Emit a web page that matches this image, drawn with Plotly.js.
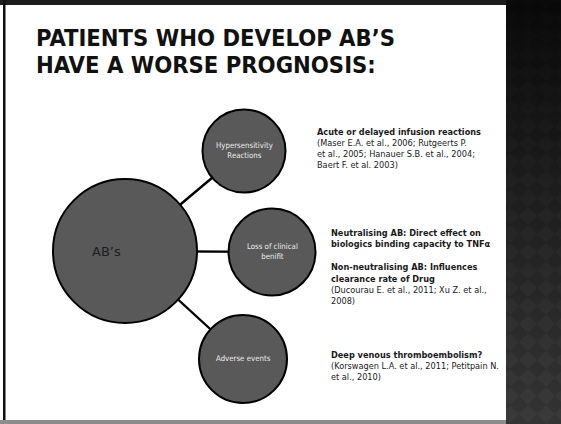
<!DOCTYPE html>
<html><head><meta charset="utf-8">
<script src="https://cdn.plot.ly/plotly-3.0.1.min.js"></script>
<style>html,body{margin:0;padding:0;background:#fff;overflow:hidden}</style></head>
<body><div id="chart" style="width:561px;height:424px"></div>
<script>
// ---- content ----
const titleLines = ["PATIENTS WHO DEVELOP AB’S", "HAVE A WORSE PROGNOSIS:"];

const nodeLabels = ["AB’s", "Hypersensitivity<br>Reactions", "Loss of clinical<br>benifit", "Adverse events"];
const nodeX = [125, 244, 272, 243];
const nodeY = [251, 151, 252, 359];
const nodeR = [72, 41.5, 43.5, 44];
const linkFrom = [0, 0, 0];
const linkTo = [1, 2, 3];

const note1Lines = ["Acute or delayed infusion reactions", "(Maser E.A. et al., 2006; Rutgeerts P.", "et al., 2005; Hanauer S.B. et al., 2004;", "Baert F. et al. 2003)"];
const note1Bold = [true, false, false, false];
const note2Lines = ["Neutralising AB: Direct effect on", "biologics binding capacity to TNFα", "", "Non-neutralising AB: Influences", "clearance rate of Drug", "(Ducourau E. et al., 2011; Xu Z. et al.,", "2008)"];
const note2Bold = [true, true, false, true, true, false, false];
const note3Lines = ["Deep venous thromboembolism?", "(Korswagen L.A. et al., 2011; Petitpain N.", "et al., 2010)"];
const note3Bold = [true, false, false];

// ---- build ----
const W = 561, H = 424;
const lx = [], ly = [];
for (let i = 0; i < linkFrom.length; i++) {
  lx.push(nodeX[linkFrom[i]], nodeX[linkTo[i]], null);
  ly.push(nodeY[linkFrom[i]], nodeY[linkTo[i]], null);
}
const traces = [{
  type: 'scatter', mode: 'lines', x: lx, y: ly,
  line: {color: '#000', width: 2.3}, hoverinfo: 'skip', showlegend: false
}];

const shapes = [];
// slide frame
shapes.push({type:'rect', xref:'x', yref:'y', x0:0, x1:W, y0:0, y1:5, fillcolor:'#1c1c1c', line:{width:0}, layer:'below'});
shapes.push({type:'rect', xref:'x', yref:'y', x0:3, x1:5.5, y0:0, y1:H, fillcolor:'#111', line:{width:0}, layer:'below'});
shapes.push({type:'rect', xref:'x', yref:'y', x0:0, x1:W, y0:420, y1:H, fillcolor:'#8c8c8c', line:{width:0}, layer:'below'});
// nodes
for (let i = 0; i < nodeLabels.length; i++) {
  shapes.push({type:'circle', xref:'x', yref:'y',
    x0:nodeX[i]-nodeR[i], x1:nodeX[i]+nodeR[i], y0:nodeY[i]-nodeR[i], y1:nodeY[i]+nodeR[i],
    fillcolor:'#595959', line:{color:'#000', width:2}, layer:'above'});
}

const bodyFont = 'DejaVu Sans, sans-serif';
const condFont = 'DejaVu Sans Condensed, DejaVu Sans, sans-serif';
const annotations = [];
titleLines.forEach((t, i) => annotations.push({
  xref:'x', yref:'y', x:34, y:37.5 + i*27, text:'<b>'+t+'</b>', showarrow:false,
  xanchor:'left', yanchor:'middle',
  font:{family:condFont, size:23.6, color:'#111'}
}));
nodeLabels.forEach((t, i) => {
  const big = i === 0;
  annotations.push({
    xref:'x', yref:'y', x: big ? nodeX[i]-19 : nodeX[i], y: nodeY[i]-(big?0:1), text:t, showarrow:false,
    xanchor:'center', yanchor:'middle', align:'center',
    font: big ? {family:'DejaVu Sans, sans-serif', size:13, color:'#1e1e1e'}
              : {family:condFont, size:7.8, color:'#ececec'}
  });
});
function addBlock(lines, bold, x0, y0, dy) {
  lines.forEach((t, i) => {
    if (!t) return;
    annotations.push({
      xref:'x', yref:'y', x:x0, y:y0 + i*dy, text: bold[i] ? '<b>'+t+'</b>' : t,
      showarrow:false, xanchor:'left', yanchor:'middle', align:'left',
      font:{family:bodyFont, size:8.2, color:'#1a1a1a'}
    });
  });
}
addBlock(note1Lines, note1Bold, 315, 131.5, 11);
addBlock(note2Lines, note2Bold, 329, 233, 11.4);
addBlock(note3Lines, note3Bold, 329, 355, 11);

// dark side panel (gradient + diamond texture)
const svg = "<svg xmlns='http://www.w3.org/2000/svg' width='55' height='424' viewBox='0 0 55 424'>" +
  "<defs><linearGradient id='g' x1='0' y1='0' x2='0' y2='1'>" +
  "<stop offset='0' stop-color='#0a0a0a'/><stop offset='0.5' stop-color='#1d1d1d'/><stop offset='1' stop-color='#2e2e2e'/></linearGradient>" +
  "<linearGradient id='f' x1='0' y1='0' x2='0' y2='1'><stop offset='0' stop-color='#fff' stop-opacity='0'/><stop offset='1' stop-color='#fff' stop-opacity='0.06'/></linearGradient>" +
  "<pattern id='p' width='18' height='18' patternUnits='userSpaceOnUse' x='4' y='0'>" +
  "<path d='M9 0 L18 9 L9 18 L0 9 Z' fill='#000' fill-opacity='0.16'/></pattern></defs>" +
  "<rect width='55' height='424' fill='url(#g)'/><rect width='55' height='424' fill='url(#p)'/>" +
  "<rect width='55' height='424' fill='url(#f)'/></svg>";
const panelSrc = 'data:image/svg+xml;charset=utf-8,' + encodeURIComponent(svg);

const layout = {
  width: W, height: H, margin:{l:0, r:0, t:0, b:0},
  paper_bgcolor:'#fff', plot_bgcolor:'#fff',
  xaxis:{range:[0, W], visible:false, fixedrange:true},
  yaxis:{range:[H, 0], visible:false, fixedrange:true},
  shapes: shapes, annotations: annotations, showlegend:false,
  images:[{source: panelSrc, xref:'paper', yref:'paper', x:506/W, y:1, sizex:55/W, sizey:1,
    xanchor:'left', yanchor:'top', sizing:'stretch', layer:'above'}]
};
Plotly.newPlot('chart', traces, layout, {displayModeBar:false, staticPlot:true});
</script></body></html>
